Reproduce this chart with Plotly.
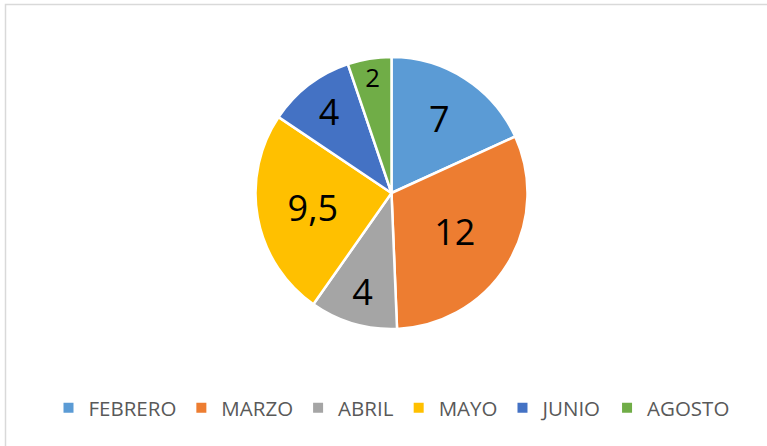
import plotly.graph_objects as go

months = ["FEBRERO", "MARZO", "ABRIL", "MAYO", "JUNIO", "AGOSTO"]
values = [7, 12, 4, 9.5, 4, 2]
colors = ["#5B9BD5", "#ED7D31", "#A5A5A5", "#FFC000", "#4472C4", "#70AD47"]

W, H = 767, 446
cx, cy, r = 391.5, 193, 136

fig = go.Figure(go.Pie(
    labels=months,
    values=values,
    sort=False,
    direction="clockwise",
    rotation=0,
    marker=dict(colors=colors, line=dict(color="white", width=2.5)),
    textinfo="value",
    textposition="inside",
    insidetextorientation="horizontal",
    textfont=dict(family="Open Sans", size=36, color="black"),
    domain=dict(x=[(cx - r) / W, (cx + r) / W], y=[1 - (cy + r) / H, 1 - (cy - r) / H]),
    hoverinfo="label+value",
))

fig.update_layout(
    width=W, height=H,
    margin=dict(l=0, r=0, t=0, b=0),
    paper_bgcolor="white",
    separators=", ",
    showlegend=True,
    legend=dict(
        orientation="h",
        x=(W / 2 + 8) / W, xanchor="center",
        y=1 - 408 / H, yanchor="middle",
        font=dict(family="Open Sans", size=20.5, color="#595959"),
        itemsizing="constant",
        traceorder="normal",
    ),
    shapes=[dict(type="rect", xref="paper", yref="paper",
                 x0=5.5 / W, x1=1.05, y0=-0.05, y1=1 - 4.5 / H,
                 line=dict(color="#D9D9D9", width=1.5), fillcolor="rgba(0,0,0,0)")],
)

fig.write_html("out.html", config={"displayModeBar": False},
               post_script="document.body.style.margin='0';document.body.style.padding='0';")
